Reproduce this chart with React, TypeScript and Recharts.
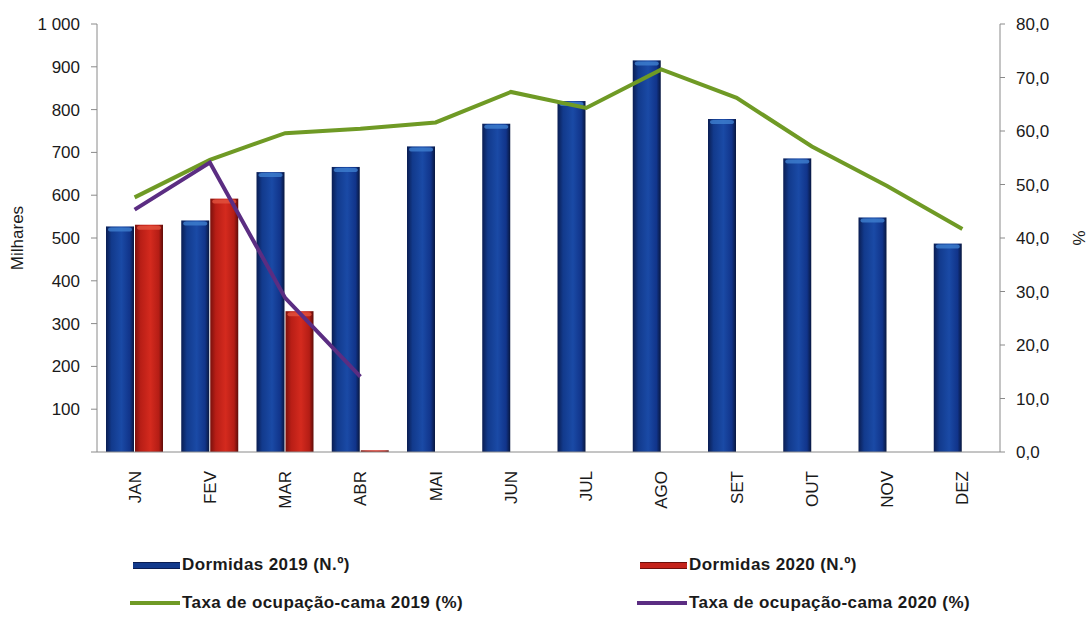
import React from 'react';
import { Bar, ComposedChart, Line, XAxis, YAxis, Label } from 'recharts';

const months = ['JAN', 'FEV', 'MAR', 'ABR', 'MAI', 'JUN', 'JUL', 'AGO', 'SET', 'OUT', 'NOV', 'DEZ'];
const dormidas2019 = [527, 541, 654, 666, 714, 767, 820, 915, 778, 686, 548, 487];
const dormidas2020 = [531, 592, 329, 4, null, null, null, null, null, null, null, null];
const taxa2019 = [47.6, 54.6, 59.6, 60.4, 61.6, 67.3, 64.3, 71.5, 66.2, 57.1, 49.7, 41.7];
const taxa2020 = [45.3, 54.1, 28.8, 14.1, null, null, null, null, null, null, null, null];
const leftTicks = [0, 100, 200, 300, 400, 500, 600, 700, 800, 900, 1000];
const rightTicks = [0, 10, 20, 30, 40, 50, 60, 70, 80];

const data = months.map((m, i) => ({
  month: m,
  d2019: dormidas2019[i],
  d2020: dormidas2020[i],
  t2019: taxa2019[i],
  t2020: taxa2020[i],
}));

const AXIS = '#8a8a8a';
const TEXT = '#1a1a1a';
const FONT = '"Liberation Sans", Arial, sans-serif';

const formatLeft = (v: number) => (v === 0 ? '' : v >= 1000 ? '1 000' : String(v));
const formatRight = (v: number) => v.toFixed(1).replace('.', ',');

const MonthTick = (props: any) => {
  const { x, y, payload } = props;
  return (
    <text
      x={x + 6}
      y={y + 11}
      transform={`rotate(-90, ${x + 6}, ${y + 11})`}
      textAnchor="end"
      fontSize={17}
      fontFamily={FONT}
      fill={TEXT}
    >
      {payload.value}
    </text>
  );
};

// bar with a lighter rounded cap on top, like the 3D look of the original
const makeShape = (grad: string, cap: string) => (props: any) => {
  const { x, y, width, height } = props;
  if (!height || height <= 0) return null;
  const capH = Math.min(6, height);
  return (
    <g>
      <rect x={x} y={y} width={width} height={height} fill={`url(#${grad})`} />
      {height > 6 && (
        <rect x={x + 2} y={y + 1} width={width - 4} height={capH - 2} rx={3} fill={cap} opacity={0.8} />
      )}
    </g>
  );
};

const blueShape = makeShape('blueBar', '#3f7fd0');
const redShape = makeShape('redBar', '#e2533f');

const legendItems = [
  { label: 'Dormidas 2019 (N.º)', kind: 'bar', color: '#123a8c', edge: '#0a1d52', left: 133, top: 565 },
  { label: 'Dormidas 2020 (N.º)', kind: 'bar', color: '#c4231b', edge: '#6e0f0b', left: 640, top: 565 },
  { label: 'Taxa de ocupação-cama 2019 (%)', kind: 'line', color: '#6f9a25', edge: '#6f9a25', left: 130, top: 603 },
  { label: 'Taxa de ocupação-cama 2020 (%)', kind: 'line', color: '#5b2d82', edge: '#5b2d82', left: 637, top: 603 },
];

export default function App() {
  return (
    <div style={{ position: 'absolute', left: 0, top: 0, width: 1091, height: 617, background: '#fff' }}>
      <ComposedChart
        width={1091}
        height={617}
        data={data}
        margin={{ top: 24, right: 0, left: 0, bottom: 0 }}
        barGap={1}
      >
        <defs>
          <linearGradient id="blueBar" x1="0" y1="0" x2="1" y2="0">
            <stop offset="0%" stopColor="#0a1d52" />
            <stop offset="20%" stopColor="#123a8c" />
            <stop offset="55%" stopColor="#1a4aa6" />
            <stop offset="85%" stopColor="#11348a" />
            <stop offset="100%" stopColor="#08173f" />
          </linearGradient>
          <linearGradient id="redBar" x1="0" y1="0" x2="1" y2="0">
            <stop offset="0%" stopColor="#7a110c" />
            <stop offset="20%" stopColor="#b81e16" />
            <stop offset="55%" stopColor="#d42a1e" />
            <stop offset="85%" stopColor="#b41d15" />
            <stop offset="100%" stopColor="#5e0c08" />
          </linearGradient>
        </defs>
        <XAxis
          dataKey="month"
          height={165}
          axisLine={{ stroke: AXIS }}
          tickLine={false}
          interval={0}
          tick={<MonthTick />}
        />
        <YAxis
          yAxisId="left"
          width={97}
          domain={[0, 1000]}
          ticks={leftTicks}
          tickFormatter={formatLeft}
          axisLine={{ stroke: AXIS }}
          tickLine={{ stroke: AXIS }}
          tickSize={6}
          tickMargin={11}
          tick={{ fontSize: 17, fontFamily: FONT, fill: TEXT }}
        >
          <Label
            value="Milhares"
            angle={-90}
            position="insideLeft"
            offset={17}
            style={{ fontSize: 17, fontFamily: FONT, fill: TEXT, textAnchor: 'middle' }}
          />
        </YAxis>
        <YAxis
          yAxisId="pct"
          orientation="right"
          width={91}
          domain={[0, 80]}
          ticks={rightTicks}
          tickFormatter={formatRight}
          axisLine={{ stroke: AXIS }}
          tickLine={{ stroke: AXIS }}
          tickSize={5}
          tickMargin={11}
          tick={{ fontSize: 17, fontFamily: FONT, fill: TEXT, textAnchor: 'start' }}
        >
          <Label
            value="%"
            angle={-90}
            position="insideRight"
            offset={12}
            style={{ fontSize: 17, fontFamily: FONT, fill: TEXT, textAnchor: 'middle' }}
          />
        </YAxis>
        <Bar yAxisId="left" dataKey="d2019" barSize={28} fill="#123a8c" shape={blueShape} isAnimationActive={false} />
        <Bar yAxisId="left" dataKey="d2020" barSize={28} fill="#c4231b" shape={redShape} isAnimationActive={false} />
        <Line
          yAxisId="pct"
          dataKey="t2019"
          type="linear"
          stroke="#6f9a25"
          strokeWidth={4}
          dot={false}
          activeDot={false}
          isAnimationActive={false}
        />
        <Line
          yAxisId="pct"
          dataKey="t2020"
          type="linear"
          stroke="#5b2d82"
          strokeWidth={4}
          dot={false}
          activeDot={false}
          connectNulls={false}
          isAnimationActive={false}
        />
      </ComposedChart>
      {legendItems.map((it) => (
        <div
          key={it.label}
          style={{
            position: 'absolute',
            left: it.left,
            top: it.top - 11,
            height: 22,
            display: 'flex',
            alignItems: 'center',
            fontFamily: FONT,
            fontWeight: 'bold',
            fontSize: 17,
            letterSpacing: 0.4,
            color: TEXT,
            whiteSpace: 'nowrap',
          }}
        >
          <span
            style={{
              display: 'inline-block',
              width: it.kind === 'bar' ? 47 : 50,
              height: it.kind === 'bar' ? 5 : 4,
              background: it.color,
              borderTop: it.kind === 'bar' ? `1px solid ${it.edge}` : 'none',
              borderBottom: it.kind === 'bar' ? `1px solid ${it.edge}` : 'none',
              marginRight: 2,
            }}
          />
          {it.label}
        </div>
      ))}
    </div>
  );
}
